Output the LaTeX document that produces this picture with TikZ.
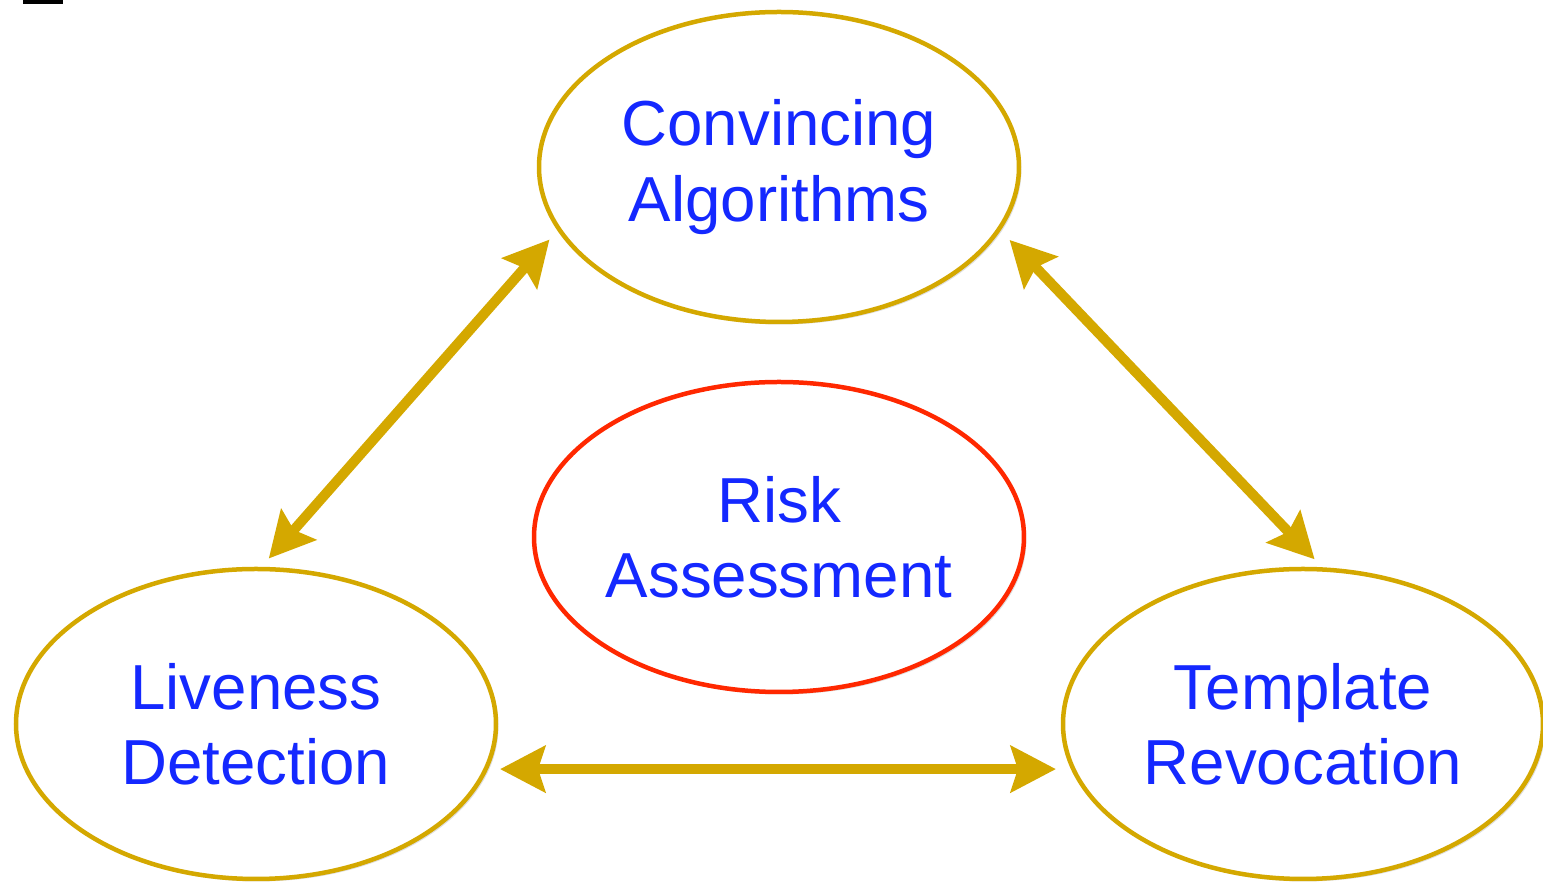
\documentclass[tikz,border=0pt]{standalone}
\usepackage{fontspec}
\setmainfont{Liberation Sans}
\usepackage{tikz}
\usetikzlibrary{arrows.meta,shapes.geometric,shadows}
\definecolor{ringgold}{RGB}{212,168,0}
\definecolor{ringred}{RGB}{255,40,0}
\definecolor{labelblue}{RGB}{20,40,255}
\tikzset{
  bubble/.style={ellipse, draw=ringgold, line width=0.045cm, fill=white,
    minimum width=4.8cm, minimum height=3.1cm, inner sep=0pt, align=center,
    text=labelblue, font=\fontsize{18.1}{21.4}\selectfont,
    drop shadow={shadow xshift=0.025cm, shadow yshift=-0.025cm, opacity=0.25}},
  riskbubble/.style={bubble, draw=ringred},
  link/.style={draw=ringgold, line width=0.1cm,
    {Stealth[length=0.45cm,width=0.46cm,inset=0.07cm]}-{Stealth[length=0.45cm,width=0.46cm,inset=0.07cm]}}
}
\begin{document}
\begin{tikzpicture}
                \useasboundingbox (0,0) rectangle (15.43,8.83);
                \fill [black] (0.23,8.79) rectangle (0.63,8.83);
                % the four bubbles
                \node [bubble] (conv) at (7.79,7.16) {Convincing\\Algorithms};
                \node [riskbubble] (risk) at (7.79,3.46) {Risk\\Assessment};
                \node [bubble] (live) at (2.56,1.59) {Liveness\\Detection};
                \node [bubble] (tmpl) at (13.03,1.59) {Template\\Revocation};
                % links between the outer bubbles
                \draw [link, shorten <=0.11cm, shorten >=0.12cm] (live.88.5) -- (conv.196.3);
                \draw [link, shorten <=0.13cm, shorten >=0.11cm] (conv.344.6) -- (tmpl.83);
                \draw [link, shorten <=0.12cm, shorten >=0.15cm] (live.-11.8) -- (tmpl.191.9 |- live.-11.8);
            \end{tikzpicture}
\end{document}
